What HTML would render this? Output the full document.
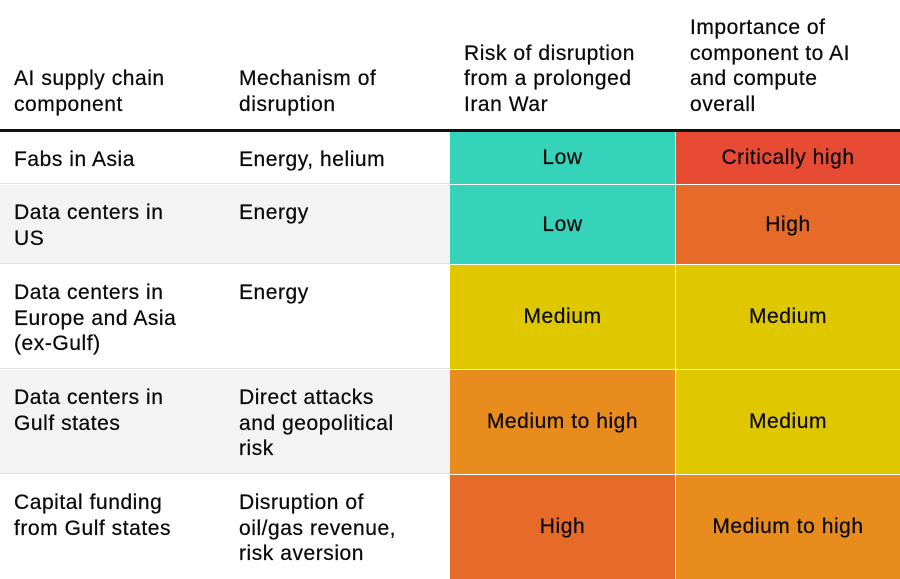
<!DOCTYPE html>
<html><head><meta charset="utf-8"><style>
body{margin:0;width:900px;height:579px;overflow:hidden;background:#fff;font-family:"Liberation Sans",sans-serif;color:#0a0a0a;}
.c{position:absolute;box-sizing:border-box;font-size:21px;line-height:25.5px;letter-spacing:0.55px;-webkit-text-stroke:0.25px #0a0a0a}
.t{padding:15px 14px 0 14px}
.m{display:flex;align-items:center;justify-content:center;text-align:center}
.h{display:flex;align-items:flex-end;padding:0 14px 12px 14px}
</style></head><body>
<div>
<div class="c h" style="left:0;top:0;width:225px;height:129px">AI supply chain<br>component</div>
<div class="c h" style="left:225px;top:0;width:225px;height:129px">Mechanism of<br>disruption</div>
<div class="c h" style="left:450px;top:0;width:226px;height:129px">Risk of disruption<br>from a prolonged<br>Iran War</div>
<div class="c h" style="left:676px;top:0;width:224px;height:129px">Importance of<br>component to AI<br>and compute<br>overall</div>
<div style="position:absolute;left:0;top:129px;width:900px;height:3px;background:#111"></div>

<div class="c" style="left:0;top:132px;width:450px;height:52px;background:#fff;border-bottom:1px solid #e2e2e2"></div>
<div class="c" style="left:0;top:185px;width:450px;height:79px;background:#f3f3f4;border-bottom:1px solid #e2e2e2"></div>
<div class="c" style="left:0;top:265px;width:450px;height:104px;background:#fff;border-bottom:1px solid #e2e2e2"></div>
<div class="c" style="left:0;top:370px;width:450px;height:104px;background:#f3f3f4;border-bottom:1px solid #e2e2e2"></div>
<div class="c" style="left:0;top:475px;width:450px;height:104px;background:#fff"></div>

<div class="c t" style="left:0;top:132px;width:225px">Fabs in Asia</div>
<div class="c t" style="left:225px;top:132px;width:225px">Energy, helium</div>
<div class="c m" style="left:450px;top:132px;width:225px;height:52px;background:#36d3bb">Low</div>
<div class="c m" style="left:676px;top:132px;width:224px;height:52px;background:#e84b33">Critically high</div>

<div class="c t" style="left:0;top:185px;width:225px">Data centers in<br>US</div>
<div class="c t" style="left:225px;top:185px;width:225px">Energy</div>
<div class="c m" style="left:450px;top:185px;width:225px;height:79px;background:#36d3bb">Low</div>
<div class="c m" style="left:676px;top:185px;width:224px;height:79px;background:#e66a28">High</div>

<div class="c t" style="left:0;top:265px;width:225px">Data centers in<br>Europe and Asia<br>(ex-Gulf)</div>
<div class="c t" style="left:225px;top:265px;width:225px">Energy</div>
<div class="c m" style="left:450px;top:265px;width:225px;height:104px;background:#dfc800">Medium</div>
<div class="c m" style="left:676px;top:265px;width:224px;height:104px;background:#dfc800">Medium</div>

<div class="c t" style="left:0;top:370px;width:225px">Data centers in<br>Gulf states</div>
<div class="c t" style="left:225px;top:370px;width:225px">Direct attacks<br>and geopolitical<br>risk</div>
<div class="c m" style="left:450px;top:370px;width:225px;height:104px;background:#e88c1e">Medium to high</div>
<div class="c m" style="left:676px;top:370px;width:224px;height:104px;background:#dfc800">Medium</div>

<div class="c t" style="left:0;top:475px;width:225px">Capital funding<br>from Gulf states</div>
<div class="c t" style="left:225px;top:475px;width:225px">Disruption of<br>oil/gas revenue,<br>risk aversion</div>
<div class="c m" style="left:450px;top:475px;width:225px;height:104px;background:#e66a28">High</div>
<div class="c m" style="left:676px;top:475px;width:224px;height:104px;background:#e88c1e">Medium to high</div>
</div>
</body></html>
